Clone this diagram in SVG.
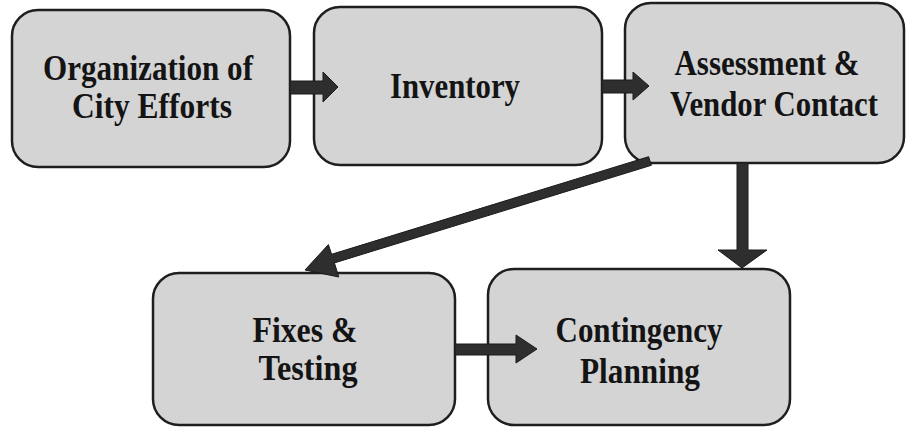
<svg xmlns="http://www.w3.org/2000/svg" width="907" height="427" viewBox="0 0 907 427">
  <style>
    .box { fill: #d4d4d4; stroke: #1e1e1e; stroke-width: 2.5; }
    .lbl { font-weight: bold; font-size: 35px; fill: #141414; text-anchor: middle; }
    .arrow { fill: #2e2e2e; stroke: #1a1a1a; stroke-width: 1; stroke-linejoin: miter; }
  </style>
  <rect width="907" height="427" fill="#ffffff"/>

  <g id="node-organization" font-family="'Liberation Serif', 'DejaVu Serif', 'Times New Roman', serif">
    <rect class="box" x="12" y="10" width="278" height="157" rx="26" ry="26"/>
    <text class="lbl" x="148" y="80" textLength="210" lengthAdjust="spacingAndGlyphs">Organization of</text>
    <text class="lbl" x="152" y="118" textLength="160" lengthAdjust="spacingAndGlyphs">City Efforts</text>
  </g>

  <g id="node-inventory" font-family="'Liberation Serif', 'DejaVu Serif', 'Times New Roman', serif">
    <rect class="box" x="314" y="7" width="288" height="158" rx="26" ry="26"/>
    <text class="lbl" x="455" y="98" textLength="130" lengthAdjust="spacingAndGlyphs">Inventory</text>
  </g>

  <g id="node-assessment" font-family="'Liberation Serif', 'DejaVu Serif', 'Times New Roman', serif">
    <rect class="box" x="625" y="3" width="279" height="160" rx="26" ry="26"/>
    <text class="lbl" x="767" y="75" textLength="185" lengthAdjust="spacingAndGlyphs">Assessment &amp;</text>
    <text class="lbl" x="774" y="116" textLength="208" lengthAdjust="spacingAndGlyphs">Vendor Contact</text>
  </g>

  <g id="node-fixes" font-family="'Liberation Serif', 'DejaVu Serif', 'Times New Roman', serif">
    <rect class="box" x="153" y="273" width="302" height="152" rx="26" ry="26"/>
    <text class="lbl" x="305" y="342" textLength="105" lengthAdjust="spacingAndGlyphs">Fixes &amp;</text>
    <text class="lbl" x="308" y="380" textLength="99" lengthAdjust="spacingAndGlyphs">Testing</text>
  </g>

  <g id="node-contingency" font-family="'Liberation Serif', 'DejaVu Serif', 'Times New Roman', serif">
    <rect class="box" x="488" y="269" width="302" height="156" rx="26" ry="26"/>
    <text class="lbl" x="639" y="342" textLength="167" lengthAdjust="spacingAndGlyphs">Contingency</text>
    <text class="lbl" x="640" y="383" textLength="120" lengthAdjust="spacingAndGlyphs">Planning</text>
  </g>

  <g id="connectors">
    <!-- Organization -> Inventory -->
    <polygon class="arrow" points="290,81 323,81 323,72 338,87 323,102 323,94 290,94"/>
    <!-- Inventory -> Assessment -->
    <polygon class="arrow" points="602,80 633,80 633,72 649,86 633,100 633,93 602,93"/>
    <!-- Assessment -> Contingency -->
    <polygon class="arrow" points="737,163 748,163 748,250 767,250 742,268 718,250 737,250"/>
    <!-- Assessment -> Fixes (diagonal) -->
    <polygon class="arrow" points="648.6,156.7 331.6,254.3 328.4,244.6 305,270 338.8,277 334.4,262.9 651.4,165.3"/>
    <!-- Fixes -> Contingency -->
    <polygon class="arrow" points="455,344 516,344 516,335 537,349 516,363 516,355 455,355"/>
  </g>
</svg>
